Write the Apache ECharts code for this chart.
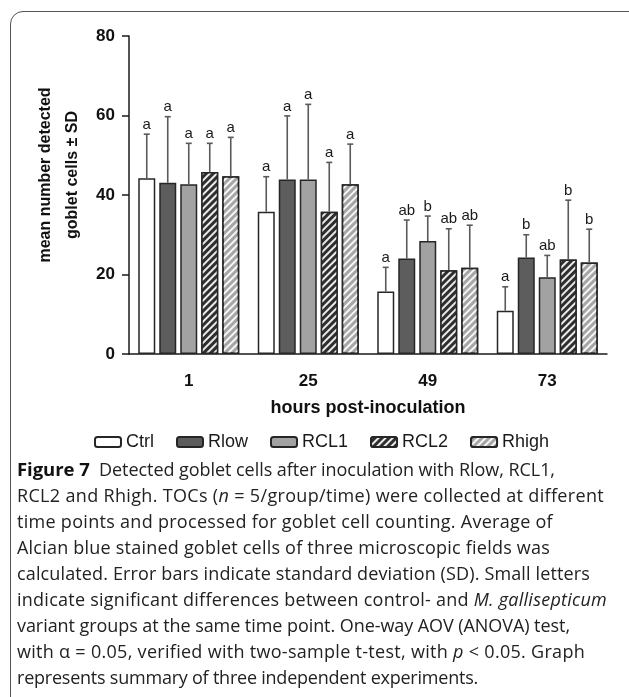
<!DOCTYPE html>
<html>
<head>
<meta charset="utf-8">
<script src="https://cdn.jsdelivr.net/npm/echarts@6/dist/echarts.min.js"></script>
<style>
  html, body { margin: 0; padding: 0; background: #fff; }
  #wrap { position: relative; width: 629px; height: 697px; overflow: hidden; background: #fff; }
  #frame { position: absolute; left: 10px; top: 11px; width: 700px; height: 760px;
           border: 1px solid #555; border-top-left-radius: 13px; box-sizing: border-box; }
  #chart { position: absolute; left: 0; top: 0; width: 629px; height: 697px; }
  #caption { position: absolute; left: 17px; top: 456px; width: 612px;
             font-family: "Open Sans", "Noto Sans", sans-serif; font-size: 18px;
             line-height: 26px; color: #222; white-space: nowrap; }
  #caption div { height: 26px; }
  #caption span.ln { display: inline-block; }
  #caption b { font-weight: 700; color: #111; font-size: 18.5px; }
</style>
</head>
<body>
<div id="wrap">
  <div id="frame"></div>
  <div id="chart"></div>
  <div id="caption"></div>
</div>
<script>
// ---- data ----
const categories = ['1', '25', '49', '73'];
const seriesNames = ['Ctrl', 'Rlow', 'RCL1', 'RCL2', 'Rhigh'];
const meanCtrl  = [44.2, 35.8, 15.7, 10.9];
const meanRlow  = [43.1, 43.9, 24.0, 24.3];
const meanRCL1  = [42.7, 43.9, 28.4, 19.3];
const meanRCL2  = [45.8, 35.8, 21.1, 23.8];
const meanRhigh = [44.7, 42.7, 21.7, 23.0];
const sdCtrl  = [11.1, 8.8, 6.1, 6.0];
const sdRlow  = [16.6, 16.0, 9.7, 5.7];
const sdRCL1  = [10.3, 18.9, 6.3, 5.5];
const sdRCL2  = [7.2, 12.4, 10.4, 14.9];
const sdRhigh = [9.8, 10.1, 10.7, 8.4];
const lettersCtrl  = ['a', 'a', 'a', 'a'];
const lettersRlow  = ['a', 'a', 'ab', 'b'];
const lettersRCL1  = ['a', 'a', 'b', 'ab'];
const lettersRCL2  = ['a', 'a', 'ab', 'b'];
const lettersRhigh = ['a', 'a', 'ab', 'b'];
const yTicks = [0, 20, 40, 60, 80];
const yAxisTitle = ['mean number detected', 'goblet cells \u00b1 SD'];
const xAxisTitle = 'hours post-inoculation';
const captionLines = [
  '<b>Figure 7</b>&nbsp; Detected goblet cells after inoculation with Rlow, RCL1,',
  'RCL2 and Rhigh. TOCs (<i>n</i> = 5/group/time) were collected at different',
  'time points and processed for goblet cell counting. Average of',
  'Alcian blue stained goblet cells of three microscopic fields was',
  'calculated. Error bars indicate standard deviation (SD). Small letters',
  'indicate significant differences between control- and <i>M. gallisepticum</i>',
  'variant groups at the same time point. One-way AOV (ANOVA) test,',
  'with \u03b1 = 0.05, verified with two-sample t-test, with <i>p</i> &lt; 0.05. Graph',
  'represents summary of three independent experiments.'
];
// approximate line widths measured on the reference (layout only)
const captionLineWidths = [538, 587, 536, 533, 573, 590, 553, 568, 461];

// ---- caption layout ----
const capEl = document.getElementById('caption');
captionLines.forEach(function (html, i) {
  const row = document.createElement('div');
  const span = document.createElement('span');
  span.className = 'ln';
  span.innerHTML = html;
  row.appendChild(span);
  capEl.appendChild(row);
  const natural = span.getBoundingClientRect().width;
  const n = span.textContent.length;
  let ls = (captionLineWidths[i] - natural) / Math.max(1, n);
  ls = Math.max(-0.5, Math.min(0.5, ls));
  span.style.letterSpacing = ls.toFixed(3) + 'px';
});

// ---- styles ----
const means = [meanCtrl, meanRlow, meanRCL1, meanRCL2, meanRhigh];
const sds = [sdCtrl, sdRlow, sdRCL1, sdRCL2, sdRhigh];
const letters = [lettersCtrl, lettersRlow, lettersRCL1, lettersRCL2, lettersRhigh];
const fills = ['#ffffff', '#5d5d5d', '#a2a2a2', '#2f2f2f', '#a6a6a6'];
const striped = [false, false, false, true, true];
const BAR_W = 17, GAP_PX = 4;
const stripe = {
  symbol: 'rect', symbolSize: 1,
  dashArrayX: [1, 0], dashArrayY: [1.6, 2.8],
  rotation: -Math.PI / 4,
  color: 'rgba(255,255,255,0.9)'
};

const chart = echarts.init(document.getElementById('chart'), null, { renderer: 'canvas' });
const series = [];
seriesNames.forEach(function (name, i) {
  const itemStyle = { color: fills[i], borderColor: '#262626', borderWidth: 1.5 };
  if (striped[i]) itemStyle.decal = stripe;
  series.push({
    name: name, type: 'bar', data: means[i],
    barWidth: BAR_W, barGap: (GAP_PX / BAR_W * 100) + '%',
    itemStyle: itemStyle, emphasis: { disabled: true }, z: 2
  });
});
seriesNames.forEach(function (name, i) {
  const offset = (i - (seriesNames.length - 1) / 2) * (BAR_W + GAP_PX);
  series.push({
    type: 'custom', name: name + ' SD', z: 3, silent: true,
    data: means[i].map(function (m, k) { return [k, m, sds[i][k]]; }),
    renderItem: function (params, api) {
      const k = api.value(0), m = api.value(1), sd = api.value(2);
      const base = api.coord([k, m]);
      const top = api.coord([k, m + sd]);
      const x = base[0] + offset;
      return {
        type: 'group',
        children: [
          { type: 'line', shape: { x1: x, y1: base[1], x2: x, y2: top[1] },
            style: { stroke: '#5a5a5a', lineWidth: 1.6 } },
          { type: 'line', shape: { x1: x - 3, y1: top[1], x2: x + 3, y2: top[1] },
            style: { stroke: '#5a5a5a', lineWidth: 1.6 } },
          { type: 'text', x: x, y: top[1] - 2,
            style: { text: letters[i][k], fill: '#1a1a1a', align: 'center', verticalAlign: 'bottom',
                     font: '15px "Liberation Sans", Arial, sans-serif', textLetterSpacing: 2 } }
        ]
      };
    }
  });
});

chart.setOption({
  animation: false,
  textStyle: { fontFamily: '"Liberation Sans", Arial, sans-serif' },
  grid: { left: 129, right: 22, top: 36, bottom: 343, containLabel: false },
  legend: {
    data: seriesNames, top: 428, left: 89, itemWidth: 26, itemHeight: 10, itemGap: 22,
    textStyle: { fontSize: 18, color: '#1a1a1a' }, selectedMode: false
  },
  xAxis: {
    type: 'category', data: categories,
    axisLine: { lineStyle: { color: '#1a1a1a', width: 1.5 } },
    axisTick: { alignWithLabel: true, length: 7, lineStyle: { color: '#1a1a1a', width: 1.5 } },
    axisLabel: { fontSize: 17, fontWeight: 'bold', color: '#111', margin: 19 },
    name: xAxisTitle, nameLocation: 'middle', nameGap: 45,
    nameTextStyle: { fontSize: 18, fontWeight: 'bold', color: '#111' }
  },
  yAxis: {
    type: 'value', min: yTicks[0], max: yTicks[yTicks.length - 1], interval: yTicks[1] - yTicks[0],
    splitLine: { show: false },
    axisLine: { show: true, lineStyle: { color: '#1a1a1a', width: 1.5 } },
    axisTick: { show: true, length: 7, lineStyle: { color: '#1a1a1a', width: 1.5 } },
    axisLabel: { fontSize: 17, fontWeight: 'bold', color: '#111', margin: 14 }
  },
  graphic: [{
    type: 'text', x: 59, y: 175, rotation: Math.PI / 2,
    style: { text: yAxisTitle.join('\n'), align: 'center', verticalAlign: 'middle',
             font: 'bold 16px "Liberation Sans", Arial, sans-serif', lineHeight: 27, fill: '#111' }
  }],
  series: series
});
</script>
</body>
</html>
